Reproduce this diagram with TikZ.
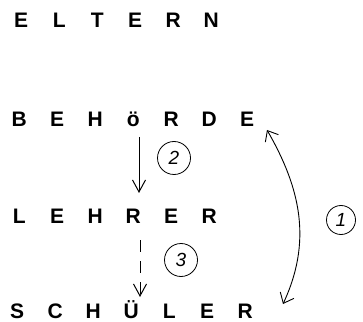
\documentclass[tikz,border=0pt]{standalone}
\usepackage{fontspec}
\setmainfont{Liberation Sans}
\usetikzlibrary{arrows.meta}
\usetikzlibrary{calc}
\newcommand{\sperr}[1]{\makebox[38pt][c]{#1}}

\begin{document}
\begin{tikzpicture}[x=1pt,y=1pt,
	wort/.style={anchor=base west, inner sep=0pt, font=\fontsize{21}{25}\selectfont\bfseries},
	nummer/.style={draw, circle, line width=0.8pt, minimum size=33pt, inner sep=0pt, font=\fontsize{19}{21}\selectfont\itshape},
	pfeil/.style={line width=1pt, -{Straight Barb[length=12pt,width=13pt]}},
	doppel/.style={line width=0.9pt, {Straight Barb[length=9pt,width=15pt]}-{Straight Barb[length=9pt,width=15pt]}}]
	\useasboundingbox (0,0) rectangle (363,321);
	% die vier Ebenen
	\node[wort] (eltern) at (2,293) {\sperr{E}\sperr{L}\sperr{T}\sperr{E}\sperr{R}\sperr{N}};
	\node[wort] (behoerde) at (0,194) {\sperr{B}\sperr{E}\sperr{H}\sperr{ö}\sperr{R}\sperr{D}\sperr{E}};
	\node[wort] (lehrer) at (0,98) {\sperr{L}\sperr{E}\sperr{H}\sperr{R}\sperr{E}\sperr{R}};
	\node[wort] (schueler) at (-2,3) {\sperr{S}\sperr{C}\sperr{H}\sperr{Ü}\sperr{L}\sperr{E}\sperr{R}};
	% Nummern
	\node[nummer] (nr2) at (174,163) {2};
	\node[nummer] (nr3) at (181,61) {3};
	\node[nummer, minimum size=29pt] (nr1) at (341,101) {1};
	% Wege
	\draw[pfeil] ($(behoerde.base west)+(139,-10)$) -- ($(lehrer.base west)+(139,30)$);
	\draw[pfeil, dash pattern=on 12pt off 9pt] ($(lehrer.base west)+(140,-17)$) -- ($(schueler.base west)+(142,21)$);
	\draw[doppel] ($(behoerde.base west)+(267,-3)$) to[out=-60,in=65] ($(schueler.base west)+(285,14)$);
\end{tikzpicture}
\end{document}
